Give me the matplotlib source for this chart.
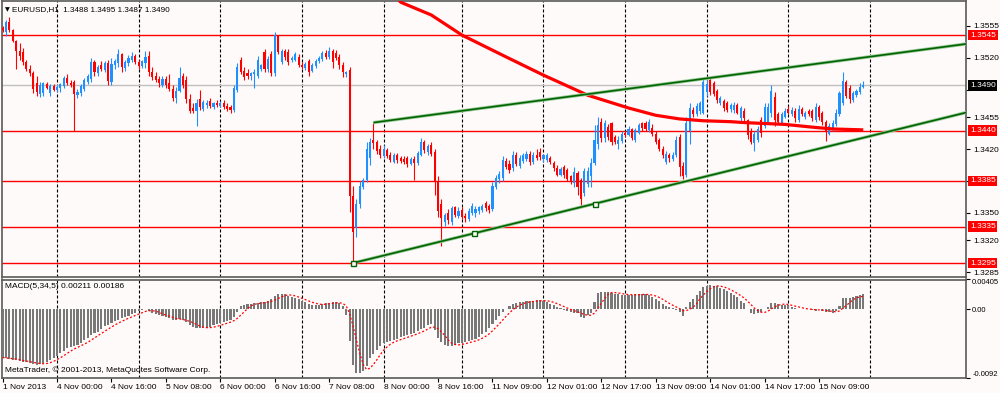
import numpy as np
import pandas as pd
import matplotlib
matplotlib.use("Agg")
import matplotlib.pyplot as plt
from matplotlib import transforms

# ---------------- data (prices in pips: 3553 -> 1.3553) ----------------
opens_pips = [
    3553, 3548, 3559, 3550, 3538, 3527, 3526, 3515, 3508, 3503,
    3492, 3480, 3481, 3491, 3481, 3489, 3485, 3487, 3489, 3498,
    3492, 3494, 3479, 3481, 3486, 3494, 3497, 3515, 3503, 3512,
    3507, 3514, 3494, 3512, 3514, 3524, 3509, 3514, 3518, 3522,
    3515, 3511, 3514, 3522, 3505, 3500, 3497, 3490, 3497, 3492,
    3486, 3476, 3484, 3500, 3496, 3475, 3465, 3462, 3475, 3464,
    3468, 3473, 3466, 3471, 3467, 3471, 3467, 3466, 3463, 3485,
    3518, 3506, 3503, 3500, 3502, 3500, 3508, 3526, 3508, 3524,
    3503, 3545, 3515, 3528, 3526, 3518, 3518, 3521, 3512, 3509,
    3516, 3506, 3511, 3516, 3519, 3525, 3521, 3528, 3525, 3521,
    3512, 3502, 3507, 3368, 3333, 3360, 3378, 3386, 3410, 3430,
    3428, 3420, 3412, 3419, 3413, 3406, 3414, 3410, 3409, 3410,
    3404, 3409, 3405, 3414, 3428, 3417, 3424, 3417, 3385, 3360,
    3340, 3350, 3340, 3356, 3347, 3353, 3347, 3343, 3350, 3350,
    3352, 3353, 3361, 3357, 3354, 3378, 3387, 3388, 3407, 3404,
    3399, 3414, 3401, 3407, 3409, 3415, 3406, 3414, 3417, 3409,
    3408, 3410, 3405, 3399, 3392, 3400, 3397, 3390, 3383, 3394,
    3386, 3372, 3382, 3390, 3405, 3425, 3450, 3432, 3444, 3448,
    3433, 3426, 3429, 3438, 3435, 3442, 3430, 3438, 3448, 3448,
    3441, 3443, 3437, 3430, 3420, 3406, 3413, 3409, 3413, 3433,
    3401, 3391, 3440, 3463, 3458, 3462, 3460, 3483, 3496, 3492,
    3484, 3470, 3473, 3470, 3464, 3463, 3468, 3454, 3462, 3452,
    3440, 3427, 3430, 3452, 3445, 3450, 3460, 3477, 3458, 3449,
    3455, 3464, 3458, 3462, 3452, 3464, 3455, 3462, 3462, 3452,
    3466, 3460, 3450, 3437, 3442, 3447, 3458, 3470, 3493, 3487,
    3474, 3479, 3482, 3488,
]
highs_pips = [
    3555, 3561, 3565, 3552, 3540, 3536, 3531, 3518, 3512, 3506,
    3500, 3493, 3494, 3494, 3491, 3491, 3490, 3492, 3500, 3502,
    3496, 3496, 3486, 3491, 3498, 3502, 3520, 3518, 3512, 3517,
    3517, 3518, 3520, 3519, 3530, 3525, 3518, 3523, 3526, 3524,
    3518, 3518, 3527, 3527, 3510, 3504, 3500, 3500, 3500, 3502,
    3490, 3488, 3510, 3503, 3500, 3480, 3470, 3475, 3485, 3474,
    3474, 3476, 3472, 3474, 3473, 3474, 3470, 3468, 3490, 3514,
    3521, 3510, 3508, 3505, 3508, 3522, 3513, 3530, 3522, 3527,
    3548, 3545, 3530, 3530, 3530, 3522, 3526, 3524, 3515, 3515,
    3519, 3514, 3519, 3522, 3527, 3529, 3532, 3530, 3529, 3524,
    3515, 3506, 3510, 3380, 3365, 3385, 3388, 3428, 3432, 3449,
    3430, 3424, 3424, 3421, 3417, 3416, 3416, 3412, 3412, 3412,
    3411, 3412, 3418, 3432, 3430, 3426, 3428, 3420, 3390, 3365,
    3350, 3354, 3358, 3358, 3356, 3356, 3350, 3355, 3361, 3357,
    3358, 3360, 3363, 3360, 3384, 3391, 3396, 3412, 3410, 3408,
    3418, 3417, 3414, 3416, 3418, 3418, 3417, 3420, 3421, 3415,
    3416, 3412, 3407, 3402, 3400, 3403, 3399, 3392, 3400, 3396,
    3388, 3399, 3400, 3410, 3446, 3455, 3454, 3452, 3447, 3450,
    3435, 3434, 3440, 3440, 3445, 3443, 3443, 3449, 3450, 3451,
    3453, 3447, 3440, 3432, 3423, 3418, 3416, 3417, 3434, 3437,
    3406, 3455, 3470, 3466, 3470, 3473, 3497, 3497, 3498, 3495,
    3486, 3478, 3475, 3473, 3470, 3472, 3470, 3467, 3465, 3453,
    3443, 3440, 3445, 3455, 3470, 3470, 3490, 3482, 3461, 3461,
    3465, 3467, 3466, 3465, 3468, 3466, 3462, 3464, 3464, 3470,
    3468, 3462, 3452, 3448, 3452, 3464, 3484, 3504, 3496, 3490,
    3484, 3486, 3492, 3495,
]
lows_pips = [
    3548, 3544, 3548, 3537, 3508, 3518, 3512, 3506, 3500, 3481,
    3478, 3477, 3478, 3486, 3478, 3484, 3483, 3483, 3487, 3490,
    3488, 3440, 3476, 3478, 3484, 3491, 3494, 3500, 3500, 3506,
    3505, 3490, 3490, 3508, 3510, 3505, 3506, 3511, 3515, 3513,
    3508, 3509, 3509, 3500, 3496, 3494, 3488, 3488, 3487, 3484,
    3473, 3470, 3482, 3487, 3470, 3460, 3459, 3445, 3463, 3462,
    3465, 3465, 3464, 3466, 3466, 3464, 3462, 3460, 3461, 3482,
    3502, 3496, 3497, 3496, 3487, 3498, 3506, 3505, 3505, 3500,
    3500, 3524, 3513, 3518, 3512, 3515, 3516, 3510, 3508, 3507,
    3500, 3504, 3509, 3514, 3517, 3519, 3519, 3509, 3518, 3508,
    3499, 3499, 3351, 3295, 3324, 3355, 3376, 3384, 3402, 3420,
    3415, 3410, 3410, 3410, 3406, 3405, 3405, 3405, 3404, 3400,
    3403, 3386, 3403, 3412, 3416, 3414, 3412, 3370, 3345, 3314,
    3336, 3338, 3337, 3345, 3344, 3343, 3340, 3341, 3348, 3346,
    3349, 3351, 3352, 3350, 3352, 3376, 3383, 3385, 3398, 3394,
    3396, 3401, 3399, 3405, 3407, 3403, 3404, 3408, 3408, 3406,
    3406, 3404, 3396, 3390, 3390, 3388, 3385, 3382, 3378, 3370,
    3356, 3368, 3378, 3378, 3403, 3420, 3428, 3428, 3430, 3424,
    3425, 3420, 3427, 3433, 3434, 3430, 3428, 3436, 3440, 3440,
    3439, 3434, 3426, 3418, 3410, 3404, 3406, 3407, 3411, 3390,
    3387, 3389, 3425, 3455, 3456, 3458, 3458, 3478, 3479, 3478,
    3470, 3468, 3462, 3461, 3461, 3460, 3458, 3451, 3450, 3431,
    3425, 3418, 3428, 3433, 3443, 3448, 3455, 3445, 3448, 3447,
    3454, 3458, 3456, 3450, 3450, 3456, 3453, 3456, 3451, 3450,
    3452, 3446, 3429, 3435, 3440, 3445, 3456, 3468, 3476, 3470,
    3472, 3477, 3480, 3487,
]
closes_pips = [
    3550, 3559, 3550, 3538, 3527, 3522, 3515, 3508, 3503, 3486,
    3482, 3490, 3492, 3487, 3489, 3485, 3488, 3491, 3498, 3492,
    3490, 3480, 3483, 3489, 3496, 3500, 3515, 3505, 3510, 3508,
    3514, 3495, 3513, 3516, 3524, 3510, 3515, 3520, 3522, 3515,
    3511, 3516, 3521, 3505, 3499, 3496, 3492, 3497, 3490, 3486,
    3476, 3484, 3498, 3490, 3475, 3462, 3462, 3470, 3466, 3472,
    3471, 3467, 3470, 3468, 3471, 3466, 3464, 3463, 3487, 3510,
    3505, 3499, 3500, 3503, 3505, 3518, 3512, 3508, 3519, 3503,
    3545, 3526, 3527, 3521, 3515, 3520, 3524, 3512, 3510, 3513,
    3505, 3512, 3516, 3520, 3525, 3521, 3528, 3515, 3520, 3512,
    3504, 3504, 3368, 3329, 3360, 3380, 3386, 3420, 3428, 3427,
    3418, 3413, 3420, 3412, 3408, 3414, 3408, 3407, 3406, 3404,
    3409, 3405, 3416, 3428, 3419, 3423, 3415, 3385, 3352, 3344,
    3348, 3342, 3355, 3348, 3352, 3346, 3344, 3352, 3358, 3354,
    3356, 3358, 3355, 3353, 3380, 3388, 3393, 3408, 3400, 3397,
    3414, 3404, 3410, 3413, 3415, 3406, 3413, 3410, 3411, 3413,
    3414, 3406, 3399, 3392, 3398, 3391, 3387, 3385, 3395, 3378,
    3365, 3396, 3396, 3405, 3430, 3446, 3432, 3448, 3433, 3428,
    3428, 3430, 3437, 3435, 3442, 3432, 3441, 3446, 3443, 3442,
    3450, 3436, 3428, 3420, 3413, 3415, 3410, 3413, 3430, 3400,
    3390, 3448, 3465, 3458, 3467, 3471, 3493, 3491, 3482, 3480,
    3474, 3476, 3465, 3463, 3468, 3468, 3460, 3465, 3454, 3435,
    3428, 3436, 3442, 3438, 3466, 3466, 3484, 3452, 3450, 3458,
    3462, 3460, 3463, 3454, 3464, 3458, 3459, 3458, 3454, 3466,
    3455, 3450, 3440, 3445, 3449, 3460, 3481, 3495, 3478, 3475,
    3481, 3484, 3488, 3490,
]
# MACD(5,34,5) main line, in units of 1e-5
macd_e5 = [
    -650, -660, -670, -683, -690, -700, -705, -712, -720, -735,
    -750, -740, -723, -705, -683, -655, -628, -595, -560, -525,
    -505, -495, -480, -450, -415, -386, -350, -325, -300, -265,
    -230, -210, -185, -160, -140, -115, -98, -85, -65, -45,
    -25, -5, 10, -20, -45, -60, -75, -95, -105, -120,
    -142, -145, -130, -142, -175, -215, -235, -245, -255, -250,
    -245, -232, -215, -200, -187, -172, -158, -142, -100, -30,
    47, 62, 75, 80, 85, 90, 95, 105, 120, 135,
    180, 205, 210, 205, 185, 165, 150, 135, 120, 95,
    70, 65, 65, 65, 75, 85, 92, 95, 95, 85,
    45, -80, -420, -750, -855, -860, -835, -760, -660, -600,
    -550, -490, -455, -440, -420, -410, -395, -375, -360, -345,
    -335, -315, -290, -265, -245, -215, -190, -280, -380, -440,
    -475, -495, -490, -475, -460, -450, -440, -430, -415, -400,
    -370, -330, -300, -255, -190, -140, -90, -40, 0, 40,
    68, 85, 95, 104, 110, 115, 117, 122, 126, 115,
    104, 80, 59, 35, 14, -5, -18, -30, -45, -54,
    -100, -113, -77, -50, 100, 216, 235, 239, 230, 222,
    213, 207, 200, 195, 194, 198, 203, 207, 206, 203,
    190, 171, 140, 110, 80, 50, 30, 14, -5, -30,
    -90, 36, 100, 140, 194, 250, 306, 320, 329, 322,
    315, 290, 270, 245, 216, 190, 162, 120, 81, 10,
    -50, -68, -50, -32, 0, 36, 85, 90, 70, 59,
    60, 59, 30, 14, 10, 5, 0, 0, -10, -18,
    0, -15, -32, -40, -45, -25, 40, 149, 150, 149,
    165, 180, 195, 211,
]
# thick red moving average (read points: bar index, pips)
ma_bars = [115, 117, 126, 135, 148, 159, 172, 184, 190, 192, 199, 206, 214, 218, 230, 238, 244, 253]
ma_pips = [3590, 3581, 3567, 3545, 3521, 3501, 3479, 3465, 3459, 3457, 3453, 3451, 3450, 3449, 3447, 3444, 3442, 3441]

level_lines = [1.3545, 1.3440, 1.3385, 1.3335, 1.3295]
bid_price = 1.3490
price_ticks = [1.3555, 1.3520, 1.3485, 1.3455, 1.3420, 1.3385, 1.3350, 1.3320, 1.3285]
hidden_ticks = [1.3485, 1.3385]   # covered by the price boxes in the reference
upper_trend = [(109, 1.3449), (206, 1.3497)]
lower_trend = [(103, 1.3295), (174, 1.3360)]
day_starts = [16, 40, 64, 88, 112, 135, 159, 183, 207, 231, 255]
time_tick_bars = [0, 16, 32, 48, 64, 80, 96, 112, 128, 144, 160, 176, 192, 208, 224, 240]
time_tick_labels = ["1 Nov 2013", "4 Nov 00:00", "4 Nov 16:00", "5 Nov 08:00", "6 Nov 00:00",
                    "6 Nov 16:00", "7 Nov 08:00", "8 Nov 00:00", "8 Nov 16:00", "11 Nov 09:00",
                    "12 Nov 01:00", "12 Nov 17:00", "13 Nov 09:00", "14 Nov 01:00",
                    "14 Nov 17:00", "15 Nov 09:00"]
macd_ticks = [0.00405, 0.0, -0.0092]
macd_tick_labels = ["0.00405", "0.00", "-0.0092"]

# ---------------- figure ----------------
plt.rcParams['font.family'] = ['Liberation Sans', 'DejaVu Sans']
BG = '#FFFAFA'
W, H = 1000, 393
fig = plt.figure(figsize=(W / 100, H / 100), dpi=100)
fig.patch.set_facecolor(BG)


def rect(l, t, r, b):
    return [l / W, 1 - b / H, (r - l) / W, (b - t) / H]


ax = fig.add_axes(rect(2, 1, 966, 277))
axm = fig.add_axes(rect(2, 279.5, 966, 377.5), sharex=ax)
for a in (ax, axm):
    a.set_facecolor(BG)
    for s in a.spines.values():
        s.set_color('#5A5A5A')
        s.set_linewidth(1.2)

o = 1 + np.array(opens_pips) / 1e4
h = 1 + np.array(highs_pips) / 1e4
l = 1 + np.array(lows_pips) / 1e4
c = 1 + np.array(closes_pips) / 1e4
idx = np.arange(len(c))
up = c >= o
col = np.where(up, '#1E90FF', '#FF0000')

XL = (-0.18, 283.2)
ax.set_xlim(*XL)
ax.set_ylim(1.32797, 1.35823)

# grid (day separators)
for d in day_starts:
    ax.axvline(d, color='black', lw=0.8, ls=(0, (2.7, 1.8)), zorder=1)
    axm.axvline(d, color='black', lw=0.8, ls=(0, (2.7, 1.8)), zorder=1)

# horizontal levels
for lv in level_lines:
    ax.axhline(lv, color='#FF0000', lw=1.0, zorder=2)
ax.axhline(bid_price, color='#C0C0C0', lw=1.0, zorder=2)

# candles
ax.vlines(idx, l, h, colors=col, lw=0.8, zorder=3)
body = np.maximum(np.abs(c - o), 0.00006)
ax.bar(idx, body, bottom=np.minimum(o, c), width=0.62, color=col, lw=0, zorder=4)

# moving average
ax.plot(ma_bars, 1 + np.array(ma_pips) / 1e4, color='#FF0000', lw=2.3, zorder=5,
        solid_capstyle='butt', solid_joinstyle='round')


# trend lines (rays to the right edge)
def ray(p0, p1, x_end):
    (x0, y0), (x1, y1) = p0, p1
    k = (y1 - y0) / (x1 - x0)
    return [x0, x_end], [y0, y0 + k * (x_end - x0)]


for tr in (upper_trend, lower_trend):
    xs, ys = ray(tr[0], tr[1], XL[1] + 2)
    ax.plot(xs, ys, color='#9BCB9B', lw=2.4, zorder=5, solid_capstyle='butt')
    ax.plot(xs, ys, color='#006400', lw=1.2, zorder=6, solid_capstyle='butt')
(lx0, ly0), (lx1, ly1) = lower_trend
ax.plot([lx0, (lx0 + lx1) / 2, lx1], [ly0, (ly0 + ly1) / 2, ly1], ls='none', marker='s',
        ms=3.6, mfc='#FFFAFA', mec='#006400', mew=1.0, zorder=7)

# right price axis
ax.yaxis.tick_right()
ax.set_yticks(price_ticks)
ax.set_yticklabels(['' if t in hidden_ticks else f'{t:.4f}' for t in price_ticks])
ax.tick_params(axis='y', length=3, width=0.8, pad=2, labelsize=6, colors='black')
ax.tick_params(axis='x', bottom=False, labelbottom=False)

trans = transforms.blended_transform_factory(ax.transAxes, ax.transData)
for lv in level_lines:
    ax.text(1.004, lv, f'{lv:.4f}', transform=trans, ha='left', va='center', fontsize=6,
            color='white', clip_on=False, zorder=10,
            bbox=dict(boxstyle='square,pad=0.22', fc='#FF0000', ec='none'))
ax.text(1.004, bid_price, f'{bid_price:.4f}', transform=trans, ha='left', va='center', fontsize=6,
        color='white', clip_on=False, zorder=10,
        bbox=dict(boxstyle='square,pad=0.22', fc='black', ec='none'))

# MACD panel
macd = np.array(macd_e5) / 1e5
signal = pd.Series(macd).rolling(5, min_periods=1).mean().to_numpy()
axm.bar(idx, macd, width=0.62, color='#787878', lw=0, zorder=3)
axm.plot(idx, signal, color='#FF0000', lw=0.9, ls=(0, (1.6, 1.6)), zorder=4)
axm.set_ylim(-0.0092, 0.00405)
axm.yaxis.tick_right()
axm.set_yticks(macd_ticks)
axm.set_yticklabels(macd_tick_labels)
labs = axm.get_yticklabels()
labs[0].set_va('top')
labs[-1].set_va('bottom')
axm.tick_params(axis='y', length=3, width=0.8, pad=1.5, labelsize=5.5, colors='black')
axm.set_xticks(time_tick_bars)
axm.set_xticklabels(time_tick_labels, ha='left')
axm.tick_params(axis='x', length=3, width=0.8, pad=1.5, labelsize=6, colors='black')

# texts
fig.text(5 / W, 1 - 9.5 / H, '\u25bc', fontsize=4.5, va='center', ha='left',
         family=['DejaVu Sans'])
fig.text(12 / W, 1 - 9.5 / H, 'EURUSD,H1  1.3488 1.3495 1.3487 1.3490', fontsize=5.9,
         va='center', ha='left')
fig.text(5 / W, 1 - 287 / H, 'MACD(5,34,5) 0.00211 0.00186', fontsize=6.0, va='center', ha='left')
fig.text(5 / W, 1 - 370.5 / H, 'MetaTrader, \u00a9 2001-2013, MetaQuotes Software Corp.',
         fontsize=6.0, va='center', ha='left')

fig.savefig('out.png', dpi=100, facecolor=BG)
